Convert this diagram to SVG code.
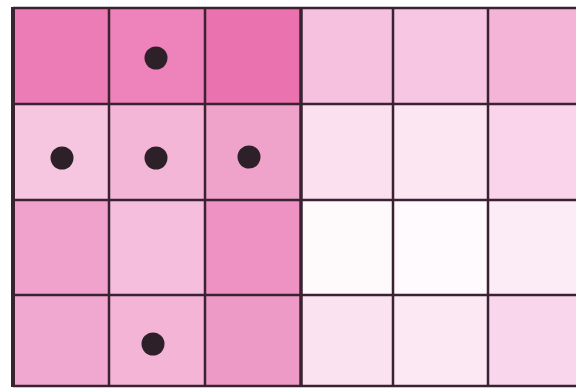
<svg xmlns="http://www.w3.org/2000/svg" width="576" height="389" viewBox="0 0 576 389">
<style>
.ln{stroke:#3a2232;stroke-width:2.5;fill:none}
.dot{fill:#2e2028}
</style>
<rect width="576" height="389" fill="#ffffff"/>
<g id="cells">
<rect x="13" y="8" width="96" height="96" fill="#ec7cb6"/>
<rect x="109" y="8" width="96" height="96" fill="#ee82ba"/>
<rect x="205" y="8" width="96" height="96" fill="#ea72ae"/>
<rect x="301" y="8" width="92" height="96" fill="#f6c0df"/>
<rect x="393" y="8" width="95" height="96" fill="#f7c6e2"/>
<rect x="488" y="8" width="90" height="96" fill="#f4b4d8"/>
<rect x="13" y="104" width="96" height="96" fill="#f6c6e0"/>
<rect x="109" y="104" width="96" height="96" fill="#f3b6d7"/>
<rect x="205" y="104" width="96" height="96" fill="#efa2ca"/>
<rect x="301" y="104" width="92" height="96" fill="#fbe0ef"/>
<rect x="393" y="104" width="95" height="96" fill="#fce6f2"/>
<rect x="488" y="104" width="90" height="96" fill="#f9d4ea"/>
<rect x="13" y="200" width="96" height="95" fill="#f0a2cd"/>
<rect x="109" y="200" width="96" height="95" fill="#f4bedc"/>
<rect x="205" y="200" width="96" height="95" fill="#ed92c2"/>
<rect x="301" y="200" width="92" height="95" fill="#fefafc"/>
<rect x="393" y="200" width="95" height="95" fill="#fefafd"/>
<rect x="488" y="200" width="90" height="95" fill="#fbecf5"/>
<rect x="13" y="295" width="96" height="91" fill="#f1a8d0"/>
<rect x="109" y="295" width="96" height="91" fill="#f3b4d6"/>
<rect x="205" y="295" width="96" height="91" fill="#ed9ac6"/>
<rect x="301" y="295" width="92" height="91" fill="#fbe2f0"/>
<rect x="393" y="295" width="95" height="91" fill="#fce8f3"/>
<rect x="488" y="295" width="90" height="91" fill="#f9d6eb"/>
</g>
<g id="grid">
<line class="ln" x1="13" y1="8" x2="576" y2="8"/>
<line class="ln" x1="13" y1="104" x2="576" y2="104"/>
<line class="ln" x1="13" y1="200" x2="576" y2="200"/>
<line class="ln" x1="13" y1="295" x2="576" y2="295"/>
<line class="ln" x1="13" y1="386" x2="576" y2="386"/>
<line class="ln" x1="13" y1="7" x2="13" y2="387" style="stroke-width:4"/>
<line class="ln" x1="109" y1="8" x2="109" y2="386"/>
<line class="ln" x1="205" y1="8" x2="205" y2="386"/>
<line class="ln" x1="301" y1="8" x2="301" y2="386" style="stroke-width:3.5"/>
<line class="ln" x1="393" y1="8" x2="393" y2="386"/>
<line class="ln" x1="488" y1="8" x2="488" y2="386"/>
</g>
<g id="dots">
<circle class="dot" cx="156" cy="58" r="11.5"/>
<circle class="dot" cx="62" cy="158" r="11.5"/>
<circle class="dot" cx="156" cy="158" r="11.5"/>
<circle class="dot" cx="249" cy="157" r="11.5"/>
<circle class="dot" cx="153" cy="344" r="11.5"/>
</g>
</svg>
